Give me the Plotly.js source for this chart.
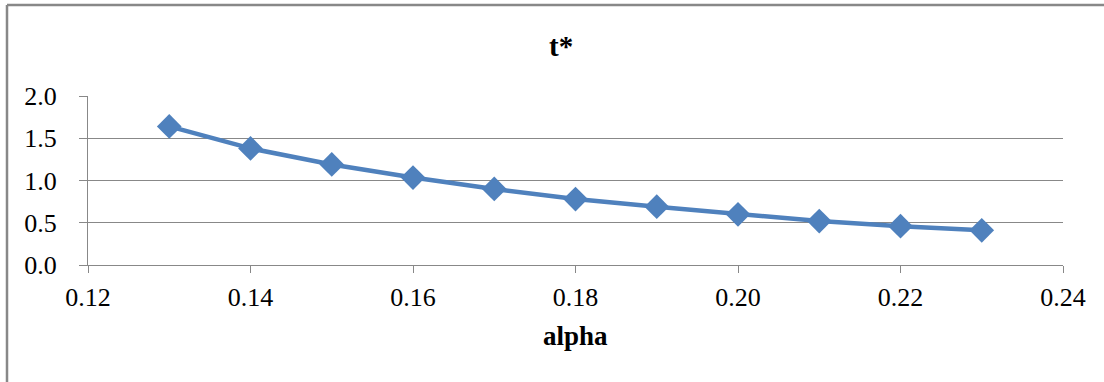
<!DOCTYPE html>
<html>
<head>
<meta charset="utf-8">
<script src="https://cdn.plot.ly/plotly-3.0.1.min.js"></script>
<style>html,body{margin:0;padding:0;background:#fff;}#chart{width:1104px;height:382px;}</style>
</head>
<body>
<div id="chart"></div>
<script>
const alpha = [0.13, 0.14, 0.15, 0.16, 0.17, 0.18, 0.19, 0.20, 0.21, 0.22, 0.23];
const tStar = [1.64, 1.38, 1.19, 1.035, 0.90, 0.78, 0.69, 0.60, 0.52, 0.46, 0.41];
const titleText = 't*';
const xTitle = 'alpha';

const serif = '"Liberation Serif", "Times New Roman", serif';
const trace = {
  x: alpha, y: tStar, type: 'scatter', mode: 'lines+markers',
  line: {color: '#4F81BD', width: 4.5},
  marker: {symbol: 'diamond', size: 19, color: '#4F81BD'},
  hoverinfo: 'none'
};
const layout = {
  width: 1104, height: 382,
  margin: {l: 88, r: 41, t: 96, b: 117},
  paper_bgcolor: '#fff', plot_bgcolor: '#fff',
  showlegend: false,
  font: {family: serif, color: '#000', size: 26},
  xaxis: {
    range: [0.12, 0.24], tick0: 0.12, dtick: 0.02, tickformat: '.2f',
    showgrid: false, zeroline: false,
    showline: true, linecolor: '#888', linewidth: 1,
    ticks: 'outside', ticklen: 7, tickcolor: '#888', tickwidth: 1,
    ticklabelstandoff: 2,
    tickfont: {family: serif, size: 26, color: '#000'}
  },
  yaxis: {
    range: [0, 2.0], tick0: 0, dtick: 0.5, tickformat: '.1f',
    showgrid: true, gridcolor: '#888', gridwidth: 1, zeroline: false,
    showline: true, linecolor: '#888', linewidth: 1,
    ticks: 'outside', ticklen: 8, tickcolor: '#888', tickwidth: 1,
    ticklabelstandoff: 17,
    tickfont: {family: serif, size: 26, color: '#000'}
  },
  annotations: [
    {text: '<b>' + titleText + '</b>', xref: 'paper', yref: 'paper',
     x: (561 - 88) / 975, y: (265 - 46) / 169, xanchor: 'center', yanchor: 'middle',
     showarrow: false, font: {family: serif, size: 29, color: '#000'}},
    {text: '<b>' + xTitle + '</b>', xref: 'paper', yref: 'paper',
     x: 0.5, y: (265 - 336) / 169, xanchor: 'center', yanchor: 'middle',
     showarrow: false, font: {family: serif, size: 27, color: '#000'}}
  ],
  shapes: [
    {type: 'line', xref: 'paper', yref: 'paper', x0: (7 - 88) / 975, x1: (1104 - 88) / 975,
     y0: (265 - 5) / 169, y1: (265 - 5) / 169, line: {color: '#888', width: 2.5}},
    {type: 'line', xref: 'paper', yref: 'paper', x0: (7 - 88) / 975, x1: (7 - 88) / 975,
     y0: (265 - 5) / 169, y1: (265 - 382) / 169, line: {color: '#888', width: 2.5}}
  ]
};
Plotly.newPlot('chart', [trace], layout, {staticPlot: true, displayModeBar: false});
</script>
</body>
</html>
